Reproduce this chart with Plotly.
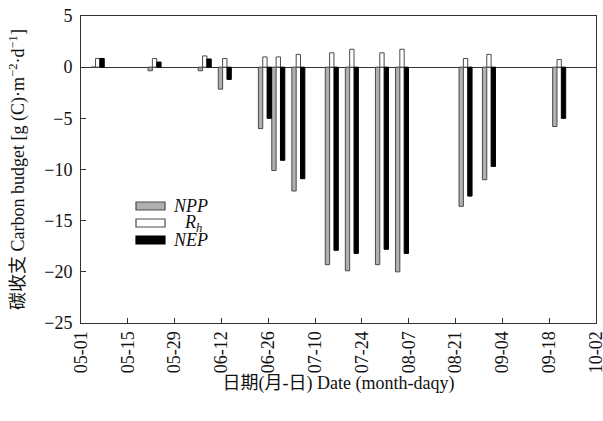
import plotly.graph_objects as go

year = 2012
dates = ["05-06", "05-23", "06-07", "06-13", "06-25", "06-29", "07-05",
         "07-15", "07-21", "07-30", "08-05", "08-24", "08-31", "09-21"]
npp = [0.0, -0.35, -0.35, -2.15, -6.0, -10.1, -12.1,
       -19.3, -19.9, -19.3, -20.0, -13.6, -11.0, -5.8]
rh = [0.85, 0.85, 1.1, 0.85, 1.0, 1.0, 1.25,
      1.4, 1.75, 1.4, 1.75, 0.85, 1.25, 0.75]
nep = [0.85, 0.5, 0.8, -1.2, -5.0, -9.1, -10.9,
       -17.9, -18.2, -17.8, -18.2, -12.6, -9.7, -5.0]
tick_labels = ["05-01", "05-15", "05-29", "06-12", "06-26", "07-10",
               "07-24", "08-07", "08-21", "09-04", "09-18", "10-02"]
series_names = ["<i>NPP</i>", "<i>R</i><sub><i>h</i></sub>", "<i>NEP</i>"]

x = [f"{year}-{d}" for d in dates]
tick_vals = [f"{year}-{t}" for t in tick_labels]

DAY = 86400000
w = 1.3 * DAY

FONT = "Liberation Serif, Times New Roman, Noto Sans CJK SC, serif"
fills = ["#b0b0b0", "#ffffff", "#000000"]
edges = ["#4a4a4a", "#4a4a4a", "#000000"]
offsets = [-1.95 * DAY, -0.65 * DAY, 0.65 * DAY]

fig = go.Figure()
for name, vals, fc, ec, off in zip(series_names, [npp, rh, nep], fills, edges, offsets):
    fig.add_trace(go.Bar(x=x, y=vals, name=name, width=w, offset=off,
                         marker=dict(color=fc, line=dict(color=ec, width=1))))

W, H = 603, 421
L, R, T, B = 81, 596, 16, 323   # plot area in page pixels
def px(xp): return (xp - L) / (R - L)
def py(yp): return (B - yp) / (B - T)
row_y = [206, 223, 240]
text_x = [171, 182, 171]
shapes = []
annotations = []
for name, fc, ec, yy, tx in zip(series_names, fills, edges, row_y, text_x):
    shapes.append(dict(type="rect", xref="paper", yref="paper",
                       x0=px(136), x1=px(165), y0=py(yy - 4), y1=py(yy + 4),
                       fillcolor=fc, line=dict(color=ec, width=1.2)))
    annotations.append(dict(xref="paper", yref="paper", x=px(tx), y=py(yy),
                            text=name, showarrow=False, xanchor="left", yanchor="middle",
                            font=dict(family=FONT, size=18, color="#111")))

fig.update_layout(
    width=W, height=H,
    margin=dict(l=L, r=W - R, t=T, b=H - B),
    paper_bgcolor="white", plot_bgcolor="white",
    barmode="overlay",
    font=dict(family=FONT, size=18, color="#111"),
    showlegend=False,
    shapes=shapes, annotations=annotations,
)
fig.update_xaxes(
    type="date", automargin=False,
    range=[f"{year}-05-01", f"{year}-10-02 00:20"],
    tickvals=tick_vals, ticktext=tick_labels,
    tickangle=-90, ticklabeloverflow="allow",
    ticks="inside", ticklen=5, tickcolor="#333",
    showline=True, linecolor="#333", linewidth=1, mirror=True,
    showgrid=False, zeroline=False,
    tickfont=dict(size=18),
    title=dict(text="日期(月-日) Date (month-daqy)", standoff=4, font=dict(size=18)),
)
fig.update_yaxes(
    automargin=False,
    range=[-25, 5], dtick=5, tick0=0,
    ticks="inside", ticklen=5, tickcolor="#333",
    showline=True, linecolor="#333", linewidth=1, mirror=True,
    showgrid=False, zeroline=True, zerolinecolor="#333", zerolinewidth=1,
    tickfont=dict(size=18), ticklabelstandoff=4, ticklabeloverflow="allow",
    title=dict(text="碳收支 Carbon budget [g (C)·m<sup>−2</sup>·d<sup>−1</sup>]", standoff=14,
               font=dict(size=18)),
)

fig.write_html(
    "out.html",
    config={"displayModeBar": False},
    post_script=("document.body.style.margin='0';"
                 "document.documentElement.style.overflow='hidden';"
                 "document.body.style.overflow='hidden';"),
)
